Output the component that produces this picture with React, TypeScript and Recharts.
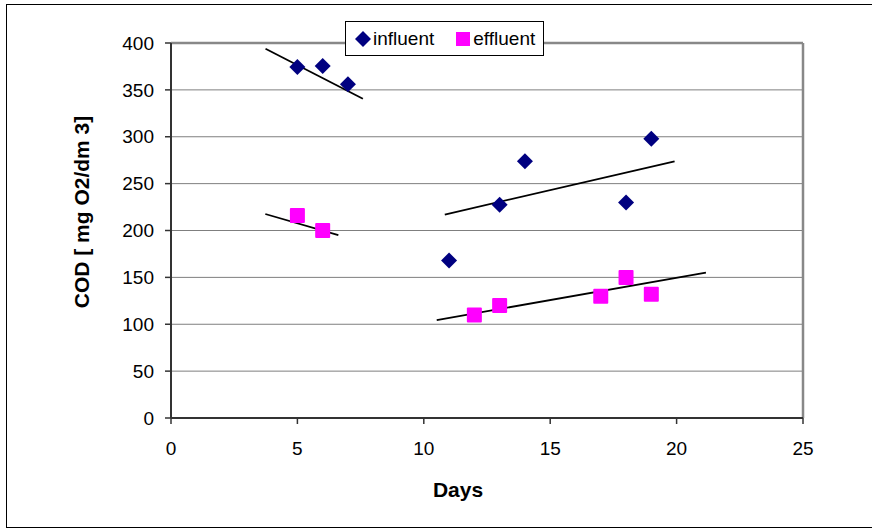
import { ScatterChart, Scatter, XAxis, YAxis, CartesianGrid, ReferenceLine } from 'recharts'

const dayTicks = [0, 5, 10, 15, 20, 25]
const codTicks = [0, 50, 100, 150, 200, 250, 300, 350, 400]

const influentDays = [5, 6, 7, 11, 13, 14, 18, 19]
const influentCod = [374.5, 375.5, 356, 168, 227.5, 274, 230, 298]
const effluentDays = [5, 6, 12, 13, 17, 18, 19]
const effluentCod = [216, 200, 110, 120, 130, 150, 132]

// trendline end points [day, cod]
const influentTrends = [
  [[3.74, 393.8], [7.59, 340.5]],
  [[10.83, 217], [19.92, 273.8]],
]
const effluentTrends = [
  [[3.73, 217.6], [6.62, 195]],
  [[10.51, 104.5], [21.16, 155]],
]

const NAVY = '#000080'
const MAGENTA = '#FF00FF'
const FONT = '"Liberation Sans", Arial, sans-serif'

const influent = influentDays.map((x, i) => ({ x, y: influentCod[i] }))
const effluent = effluentDays.map((x, i) => ({ x, y: effluentCod[i] }))

const Diamond = (props: any) => {
  const { cx, cy } = props
  const r = 8
  return <polygon points={`${cx},${cy - r} ${cx + r},${cy} ${cx},${cy + r} ${cx - r},${cy}`} fill={NAVY} />
}

const Square = (props: any) => {
  const { cx, cy } = props
  const s = 15
  return <rect x={cx - s / 2} y={cy - s / 2} width={s} height={s} rx={1} fill={MAGENTA} />
}

const tickStyle = { fontSize: 19, fill: '#000', fontFamily: FONT }

export default function App() {
  return (
    <div style={{ position: 'absolute', left: 0, top: 0, width: 872, height: 531, overflow: 'hidden', background: '#fff', fontFamily: FONT }}>
      <div style={{ position: 'absolute', left: 6, top: 4, width: 900, height: 524, border: '1.5px solid #000', boxSizing: 'border-box' }} />
      <div style={{ position: 'absolute', left: 0, top: 0 }}>
        <ScatterChart width={872} height={531} margin={{ top: 43, right: 69, bottom: 83, left: 111 }}>
          <CartesianGrid vertical={false} stroke="#7f7f7f" strokeWidth={1} />
          <XAxis
            type="number"
            dataKey="x"
            domain={[0, 25]}
            ticks={dayTicks}
            height={30}
            tickSize={6}
            tickMargin={18}
            tick={tickStyle}
            axisLine={{ stroke: '#333', strokeWidth: 2 }}
            tickLine={{ stroke: '#333', strokeWidth: 1.5 }}
            label={{
              content: () => (
                <text x={458} y={497} textAnchor="middle" fontSize={21} fontWeight="bold" fontFamily={FONT} fill="#000">
                  Days
                </text>
              ),
            }}
          />
          <YAxis
            type="number"
            dataKey="y"
            domain={[0, 400]}
            ticks={codTicks}
            width={60}
            tickSize={6}
            tickMargin={11}
            tick={tickStyle}
            axisLine={{ stroke: '#333', strokeWidth: 2 }}
            tickLine={{ stroke: '#333', strokeWidth: 1.5 }}
            label={{
              content: () => (
                <text x={89} y={212} transform="rotate(-90 89 212)" textAnchor="middle" fontSize={21} fontWeight="bold" fontFamily={FONT} fill="#000">
                  COD [ mg O2/dm 3]
                </text>
              ),
            }}
          />
          <ReferenceLine y={400} stroke="#888" strokeWidth={2.5} />
          <ReferenceLine x={25} stroke="#888" strokeWidth={2.5} />
          {influentTrends.concat(effluentTrends).map((seg, i) => (
            <ReferenceLine
              key={i}
              segment={[{ x: seg[0][0], y: seg[0][1] }, { x: seg[1][0], y: seg[1][1] }]}
              stroke="#000"
              strokeWidth={1.8}
            />
          ))}
          <Scatter name="influent" data={influent} fill={NAVY} shape={Diamond} isAnimationActive={false} />
          <Scatter name="effluent" data={effluent} fill={MAGENTA} shape={Square} isAnimationActive={false} />
        </ScatterChart>
      </div>
      <div
        style={{
          position: 'absolute',
          left: 345,
          top: 21,
          width: 199,
          height: 35,
          border: '1px solid #000',
          boxSizing: 'border-box',
          background: '#fff',
          display: 'flex',
          alignItems: 'center',
          fontSize: 19,
          color: '#000',
        }}
      >
        <svg width={16} height={16} style={{ marginLeft: 9 }}>
          <polygon points="8,0 16,8 8,16 0,8" fill={NAVY} />
        </svg>
        <span style={{ marginLeft: 2 }}>influent</span>
        <svg width={14} height={14} style={{ marginLeft: 22 }}>
          <rect x={0} y={0} width={14} height={14} fill={MAGENTA} />
        </svg>
        <span style={{ marginLeft: 3 }}>effluent</span>
      </div>
    </div>
  )
}
